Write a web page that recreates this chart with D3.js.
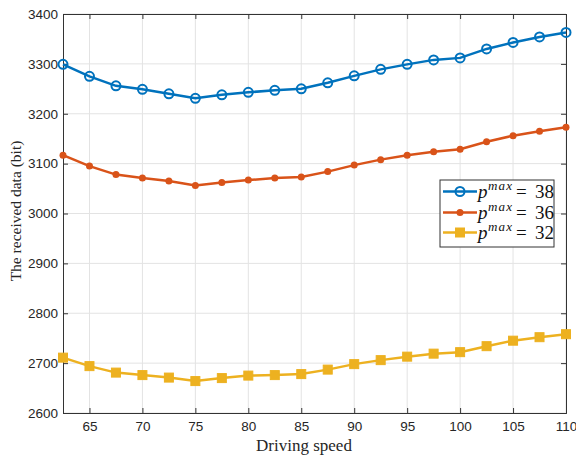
<!DOCTYPE html>
<html><head><meta charset="utf-8">
<script src="https://cdn.jsdelivr.net/npm/d3@7"></script>
<style>html,body{margin:0;padding:0;background:#fff;overflow:hidden}</style>
</head><body>
<svg id="c" width="576" height="455"></svg>
<script>
const speeds = [62.5,65,67.5,70,72.5,75,77.5,80,82.5,85,87.5,90,92.5,95,97.5,100,102.5,105,107.5,110];
const p38 = [3299,3275,3256,3249,3240,3231,3238,3243,3247,3250,3262,3276,3289,3299,3308,3312,3330,3343,3354,3363];
const p36 = [3117,3095,3078,3071,3065,3056,3062,3067,3071,3073,3084,3097,3108,3117,3124,3129,3144,3156,3165,3173];
const p32 = [2711,2694,2681,2676,2671,2664,2670,2675,2676,2678,2687,2698,2706,2713,2719,2722,2734,2745,2752,2758];
const xTicks = [65,70,75,80,85,90,95,100,105,110];
const yTicks = [2600,2700,2800,2900,3000,3100,3200,3300,3400];
const seriesNames = ["38","36","32"];

const L=63,R=566,T=14,B=413;
const svg=d3.select("#c");
const x=d3.scaleLinear().domain([62.5,110]).range([L,R]);
const y=d3.scaleLinear().domain([2600,3400]).range([B,T]);

// grid
svg.append("g").selectAll("line").data(xTicks).join("line")
  .attr("x1",d=>x(d)).attr("x2",d=>x(d)).attr("y1",T).attr("y2",B)
  .attr("stroke","#e3e3e3").attr("stroke-width",1);
svg.append("g").selectAll("line").data(yTicks).join("line")
  .attr("x1",L).attr("x2",R).attr("y1",d=>y(d)).attr("y2",d=>y(d))
  .attr("stroke","#e3e3e3").attr("stroke-width",1);

// axes
const fmt=d3.format("d");
svg.append("g").attr("transform",`translate(0,${B})`)
  .call(d3.axisBottom(x).tickValues(xTicks).tickSize(-5).tickPadding(8).tickFormat(fmt));
svg.append("g").attr("transform",`translate(${L},0)`)
  .call(d3.axisLeft(y).tickValues(yTicks).tickSize(-5).tickPadding(5).tickFormat(fmt));
svg.append("g").attr("transform",`translate(0,${T})`)
  .call(d3.axisTop(x).tickValues(xTicks).tickSize(-5).tickFormat(""));
svg.append("g").attr("transform",`translate(${R},0)`)
  .call(d3.axisRight(y).tickValues(yTicks).tickSize(-5).tickFormat(""));
svg.selectAll(".domain,.tick line").attr("stroke","#333").attr("stroke-width",1);
svg.selectAll(".tick text").attr("font-family","Liberation Sans, Arial, sans-serif")
  .attr("font-size",13.5).attr("fill","#262626");

// labels
svg.append("text").attr("x",304).attr("y",450.5).attr("text-anchor","middle")
  .attr("font-family","Liberation Serif, Times New Roman, serif").attr("font-size",17)
  .attr("fill","#262626").text("Driving speed");
svg.append("text").attr("transform",`translate(21,211) rotate(-90)`).attr("text-anchor","middle")
  .attr("font-family","Liberation Serif, Times New Roman, serif").attr("font-size",15.5)
  .attr("fill","#262626").text("The received data (bit)");

const colors=["#0072BD","#D95319","#EDB120"];
const data=[p38,p36,p32];
const line=d3.line().x((d,i)=>x(speeds[i])).y(d=>y(d));

function marker(g,k,cx,cy){
  if(k===0){
    g.append("circle").attr("cx",cx).attr("cy",cy).attr("r",4.5)
     .attr("fill","none").attr("stroke",colors[0]).attr("stroke-width",2);
  } else if(k===1){
    g.append("circle").attr("cx",cx).attr("cy",cy).attr("r",3.5).attr("fill",colors[1]);
  } else {
    g.append("rect").attr("x",cx-4.5).attr("y",cy-4.5).attr("width",9).attr("height",9)
     .attr("fill",colors[2]).attr("stroke",colors[2]).attr("stroke-width",1);
  }
}

data.forEach((s,k)=>{
  const g=svg.append("g");
  g.append("path").datum(s).attr("d",line).attr("fill","none")
   .attr("stroke",colors[k]).attr("stroke-width",2.5);
  s.forEach((v,i)=>marker(g,k,x(speeds[i]),y(v)));
});

// legend
const lg=svg.append("g");
lg.append("rect").attr("x",440).attr("y",180).attr("width",114).attr("height",67)
  .attr("fill","#fff").attr("stroke","#333").attr("stroke-width",1);
const rows=[191.5,212.5,232.5];
const serif="Liberation Serif, Times New Roman, serif";
seriesNames.forEach((nm,k)=>{
  lg.append("line").attr("x1",443).attr("x2",477).attr("y1",rows[k]).attr("y2",rows[k])
    .attr("stroke",colors[k]).attr("stroke-width",2.5);
  marker(lg,k,460,rows[k]);
  const by=rows[k]+6;
  lg.append("text").attr("x",478).attr("y",by).attr("font-family",serif).attr("font-style","italic")
    .attr("font-size",19).attr("fill","#111").text("p");
  lg.append("text").attr("x",488).attr("y",by-8).attr("font-family",serif).attr("font-style","italic")
    .attr("font-size",13).attr("fill","#111").attr("textLength",24).text("max");
  lg.append("text").attr("x",516).attr("y",by).attr("font-family",serif)
    .attr("font-size",19).attr("fill","#111").text("=");
  lg.append("text").attr("x",535).attr("y",by).attr("font-family",serif)
    .attr("font-size",19).attr("fill","#111").text(nm);
});
</script>
</body></html>
